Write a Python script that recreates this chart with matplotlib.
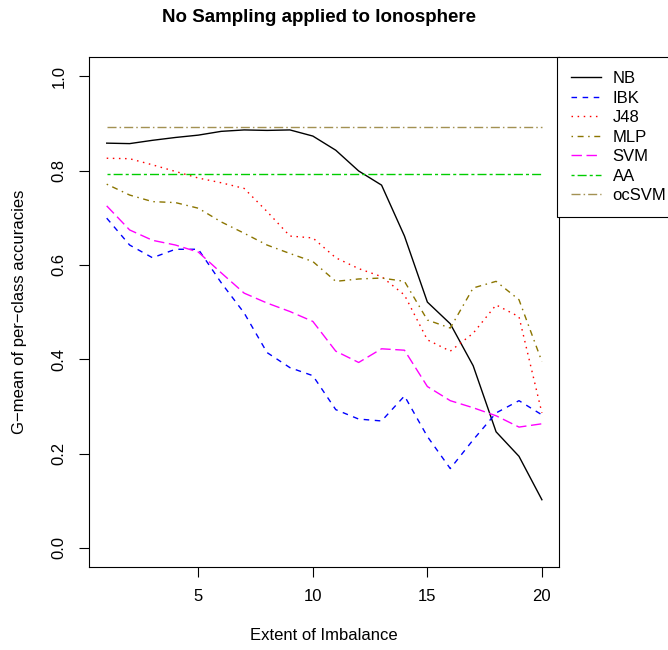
#!/usr/bin/env python3
"""G-mean per-class accuracies vs extent of imbalance (Ionosphere, no sampling)."""

import matplotlib

matplotlib.use("Agg")
import matplotlib.pyplot as plt

plt.rcParams["font.family"] = ["Liberation Sans", "DejaVu Sans"]

imbalance = list(range(1, 21))

nb = [0.858, 0.857, 0.864, 0.870, 0.875, 0.883, 0.886, 0.885, 0.886, 0.873,
      0.843, 0.799, 0.769, 0.661, 0.521, 0.475, 0.386, 0.246, 0.194, 0.102]
ibk = [0.699, 0.642, 0.615, 0.633, 0.633, 0.562, 0.498, 0.414, 0.382, 0.365,
       0.293, 0.273, 0.269, 0.322, 0.236, 0.168, 0.229, 0.286, 0.312, 0.282]
j48 = [0.826, 0.825, 0.812, 0.798, 0.784, 0.774, 0.762, 0.713, 0.661, 0.657,
       0.615, 0.592, 0.575, 0.536, 0.441, 0.417, 0.455, 0.515, 0.490, 0.286]
mlp = [0.771, 0.748, 0.734, 0.732, 0.720, 0.691, 0.667, 0.642, 0.624, 0.607,
       0.565, 0.570, 0.572, 0.565, 0.483, 0.466, 0.551, 0.565, 0.526, 0.395]
svm = [0.725, 0.674, 0.652, 0.642, 0.627, 0.583, 0.540, 0.519, 0.501, 0.480,
       0.417, 0.393, 0.422, 0.419, 0.342, 0.312, 0.297, 0.280, 0.256, 0.263]
aa = [0.793] * 20
ocsvm = [0.893] * 20

series = [
    ("NB", nb, "black", "-"),
    ("IBK", ibk, "#0000FF", (0, (4, 4))),
    ("J48", j48, "#FF0000", (0, (1.1, 3.3))),
    ("MLP", mlp, "#8B7500", (0, (1.1, 3.3, 4.3, 3.3))),
    ("SVM", svm, "#FF00FF", (0, (7.5, 3.3))),
    ("AA", aa, "#00CD00", (0, (2.2, 2.2, 6.5, 2.2))),
    ("ocSVM", ocsvm, "#A39152", (0, (6.5, 2.2, 1.1, 2.2))),
]

fig = plt.figure(figsize=(6.68, 6.5), dpi=100)
ax = fig.add_axes([89.3 / 668, 1 - 566.7 / 650, (559.3 - 89.3) / 668, (566.7 - 57.3) / 650])

for name, vals, color, ls in series:
    ax.plot(imbalance, vals, color=color, linestyle=ls, linewidth=1.0, label=name)

ax.set_xlim(0.24, 20.76)
ax.set_ylim(-0.04, 1.04)
ax.set_xticks([5, 10, 15, 20])
ax.set_yticks([0.0, 0.2, 0.4, 0.6, 0.8, 1.0])
ax.set_yticklabels(["0.0", "0.2", "0.4", "0.6", "0.8", "1.0"], rotation=90, va="center")
ax.tick_params(direction="out", length=7.2, width=0.8, labelsize=12, pad=9)
for sp in ax.spines.values():
    sp.set_linewidth(0.8)

fig.text(319 / 668, 1 - 18 / 650, "No Sampling applied to Ionosphere",
         ha="center", va="center", fontsize=13.5, fontweight="bold")
fig.text(324 / 668, 1 - 635 / 650, "Extent of Imbalance", ha="center", va="center", fontsize=12)
fig.text(20 / 668, 1 - 312 / 650, "G\u2212mean of per\u2212class accuracies",
         ha="center", va="center", rotation=90, fontsize=12)

leg = ax.legend(loc="upper left", bbox_to_anchor=(557 / 668, 1 - 57 / 650),
                bbox_transform=fig.transFigure, borderaxespad=0, fontsize=12,
                handlelength=1.8, handletextpad=0.68, labelspacing=0.27,
                borderpad=0.85, fancybox=False, framealpha=1, edgecolor="black")
leg.get_frame().set_linewidth(0.8)

fig.savefig("out.png", dpi=100)
